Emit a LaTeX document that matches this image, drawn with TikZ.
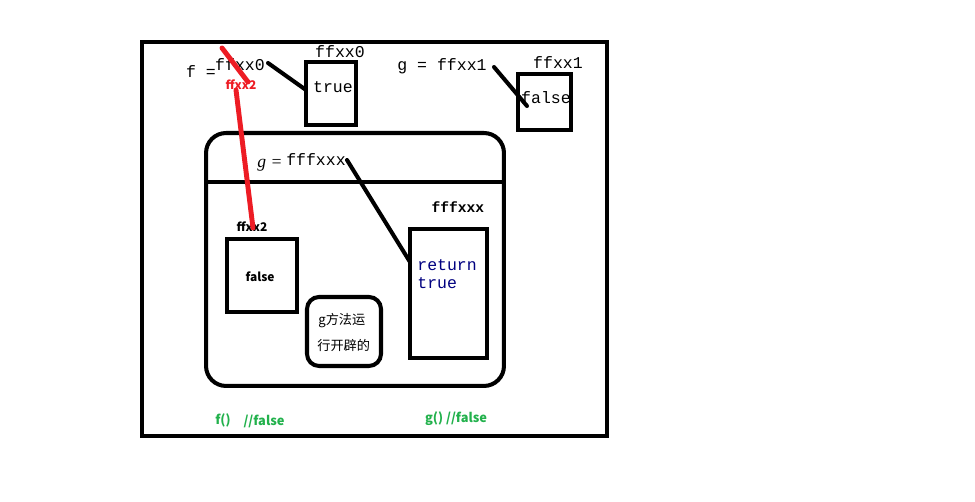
\documentclass[tikz,border=0pt]{standalone}
\usepackage{fontspec}
\setmainfont{Liberation Serif}
\setmonofont{Liberation Mono}
\newfontfamily\cjk{Noto Sans CJK SC}
\usetikzlibrary{calc}
\definecolor{paintred}{RGB}{237,28,36}
\definecolor{paintgreen}{RGB}{34,177,76}
\definecolor{codeblue}{RGB}{0,0,128}

\begin{document}
\begin{tikzpicture}[
  x=0.02cm, y=-0.02cm,
  every node/.style={inner sep=0pt},
  frame/.style={draw,line width=2.5pt},
  box/.style={draw,line width=2.3pt,rectangle},
  link/.style={draw,line width=2.3pt,line cap=round},
  redlink/.style={draw,paintred,line width=2.8pt,line cap=round},
  mono/.style={font=\ttfamily\fontsize{9.4}{11}\selectfont},
  small/.style={font=\ttfamily\bfseries\fontsize{8.3}{10}\selectfont},
  tag/.style={font=\cjk\bfseries\fontsize{6.8}{8}\selectfont},
  result/.style={font=\cjk\bfseries\fontsize{7.3}{8}\selectfont,text=paintgreen}
]
\useasboundingbox (0,0) rectangle (975,502);
\draw[frame] (142,42) rectangle (607,436);

% heap: ffxx0
\node[mono] (fEq) at (201,72) {f =};
\node[mono] (fRef) at (240,65) {ffxx0};
\node[mono] (lbl0) at (340,52) {ffxx0};
\node[box,minimum width=1.0cm,minimum height=1.26cm] (trueBox) at (331,93.5) {};
\node[mono] (trueVal) at (333,87) {true};

% heap: ffxx1
\node[mono] (gEq) at (442,66) {g = ffxx1};
\node[mono] (lbl1) at (558,63) {ffxx1};
\node[box,minimum width=1.06cm,minimum height=1.12cm] (falseBox) at (544.5,102) {};
\node[mono] (falseVal) at (546,98) {false};

% method frame
\node[box,rounded corners=0.4cm,minimum width=5.96cm,minimum height=5.06cm] (method) at (355,259.5) {};
\draw[link,line cap=butt] (method.west |- 0,182) -- (method.east |- 0,182);
\node (gIn) at (270,165) {\fontsize{10}{12}\selectfont\itshape g =};
\node[mono] (gRef) at (316,160) {fffxxx};
\node[small] (lbl3) at (458,207) {fffxxx};
\node[box,minimum width=1.54cm,minimum height=2.58cm] (retBox) at (448.5,293.5) {};
\node[mono,text=codeblue,anchor=west] (retA) at (417,265) {return};
\node[mono,text=codeblue,anchor=west] (retB) at (417,283) {true};

\node[tag] (lbl2) at (252,227) {ffxx2};
\node[box,minimum width=1.4cm,minimum height=1.46cm] (fBox) at (262,275.5) {};
\node[tag] (fVal) at (260,277) {false};

\node[box,rounded corners=0.24cm,minimum width=1.48cm,minimum height=1.38cm] (stack) at (344,331.5) {};
\node[font=\cjk\fontsize{7.5}{9}\selectfont,anchor=west] (stackA) at (318,321) {g方法运};
\node[font=\cjk\fontsize{7.5}{9}\selectfont,anchor=west] (stackB) at (317,346) {行开辟的};

% results
\node[result] (fCall) at (223,420) {f()};
\node[result] (fOut) at (264,421) {//false};
\node[result] (gCall) at (456,419) {g() //false};

% links
\coordinate (a0) at (268,63);
\coordinate (a1) at (306,90);
\draw[link] (a0) -- (a1);
\coordinate (b0) at (494,67);
\coordinate (b1) at (527,106);
\draw[link] (b0) -- (b1);
\coordinate (c0) at (347,160);
\coordinate (c1) at (410,262);
\draw[link] (c0) -- (c1);

\node[tag,text=paintred] (redTag) at (241,85) {ffxx2};
\coordinate (r0) at (222,48);
\coordinate (r1) at (248,82);
\draw[redlink] (r0) -- (r1);
\coordinate (r2) at (236,90);
\coordinate (r3) at (253,228);
\draw[redlink] (r2) -- (r3);
\end{tikzpicture}
\end{document}
